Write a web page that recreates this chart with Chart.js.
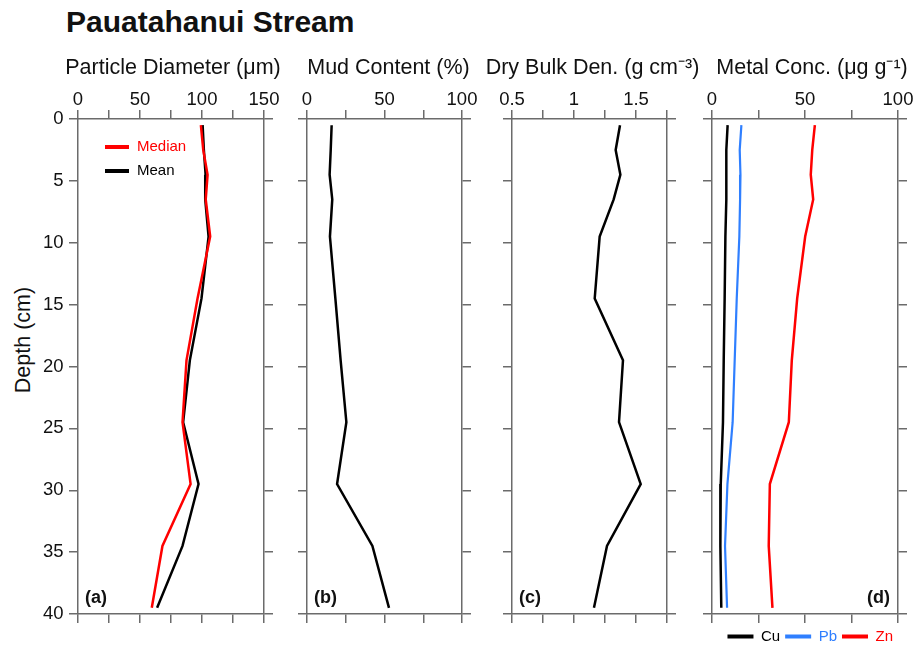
<!DOCTYPE html>
<html>
<head>
<meta charset="utf-8">
<script src="https://cdn.jsdelivr.net/npm/chart.js@4.4.1/dist/chart.umd.min.js"></script>
<style>
  html, body { margin: 0; padding: 0; background: #fff; }
  body { position: relative; width: 914px; height: 645px; overflow: hidden;
         font-family: 'Liberation Sans', Arial, Helvetica, sans-serif; color: #111; }
  canvas { position: absolute; }
  #figTitle { position: absolute; left: 66px; top: 6.6px; font-size: 30px; font-weight: bold;
              line-height: 30px; white-space: nowrap; }
  #depthLabel { position: absolute; left: 22.5px; top: 340px; font-size: 21.5px; white-space: nowrap;
                transform: translate(-50%, -50%) rotate(-90deg); }
</style>
</head>
<body>
<div id="figTitle">Pauatahanui Stream</div>
<div id="depthLabel">Depth (cm)</div>
<canvas id="panelA"></canvas>
<canvas id="panelB"></canvas>
<canvas id="panelC"></canvas>
<canvas id="panelD"></canvas>

<script>
// ---- data ----
const depths = [0.5, 2.5, 4.5, 6.5, 9.5, 14.5, 19.5, 24.5, 29.5, 34.5, 39.5];

const medianDiameter = [99.1, 101.0, 104.5, 103.0, 106.6, 96.4, 87.5, 84.3, 90.8, 68.1, 59.5];
const meanDiameter = [100.5, 101.5, 102.9, 102.6, 105.3, 99.6, 90.2, 84.8, 97.2, 84.3, 63.8];
const mudContent = [15.9, 15.3, 14.6, 16.3, 14.8, 18.3, 21.7, 25.4, 19.4, 42.2, 52.9];
const dryBulkDensity = [1.371, 1.336, 1.374, 1.32, 1.207, 1.167, 1.395, 1.363, 1.538, 1.266, 1.161];
const cuConc = [8.4, 7.7, 7.7, 7.7, 7.2, 6.8, 6.3, 5.9, 4.7, 4.5, 5.0];
const pbConc = [15.8, 14.9, 15.3, 15.1, 14.7, 13.3, 12.2, 11.1, 8.3, 7.0, 8.1];
const znConc = [55.3, 53.9, 53.1, 54.4, 50.1, 45.8, 42.9, 41.3, 31.1, 30.5, 32.5];

// tick labels shown on the top axes
const diameterTicks = [0, 50, 100, 150];
const mudTicks = [0, 50, 100];
const densityTicks = [0.5, 1, 1.5];
const metalTicks = [0, 50, 100];

const FONT = "'Liberation Sans', Arial, Helvetica, sans-serif";
const AXIS = '#6b6b6b';
const TXT = '#111';
const PLOT_TOP = 119, PLOT_H = 495, TOP_H = 79;

Chart.defaults.font.family = FONT;
Chart.defaults.color = TXT;

const toPoints = (vals) => vals.map((v, i) => ({ x: v, y: depths[i] }));

// panel titles, panel letters + inset legend
const panelDecor = {
  id: 'panelDecor',
  afterDatasetsDraw(chart, args, opts) {
    const { ctx, chartArea } = chart;
    ctx.save();
    ctx.textBaseline = 'middle';

    if (opts.title) {
      ctx.font = '21.5px ' + FONT;
      ctx.fillStyle = TXT;
      ctx.textAlign = 'center';
      const cx = (chartArea.left + chartArea.right) / 2 + (opts.titleShift || 0);
      ctx.fillText(opts.title, cx, chartArea.top - 51);
    }

    if (opts.tag) {
      ctx.font = 'bold 18px ' + FONT;
      ctx.fillStyle = TXT;
      if (opts.tagRight) {
        ctx.textAlign = 'right';
        ctx.fillText(opts.tag, chartArea.right - 8, chartArea.bottom - 16);
      } else {
        ctx.textAlign = 'left';
        ctx.fillText(opts.tag, chartArea.left + 7, chartArea.bottom - 16);
      }
    }

    if (opts.insetLegend) {
      chart.data.datasets.forEach((ds, i) => {
        const y = chartArea.top + 28 + i * 24;
        ctx.fillStyle = ds.borderColor;
        ctx.fillRect(chartArea.left + 27, y - 2, 24, 4);
        ctx.font = '15px ' + FONT;
        ctx.textAlign = 'left';
        ctx.fillText(ds.label, chartArea.left + 59, y);
      });
    }
    ctx.restore();
  }
};

function tickGrid() {
  return { drawOnChartArea: false, drawTicks: true, tickLength: 9, color: AXIS, lineWidth: 1.5 };
}
function border() {
  return { display: true, color: AXIS, width: 1.5 };
}

function buildScales(p) {
  const near = (a, b) => Math.abs(a - b) < 1e-6;
  return {
    x: {
      type: 'linear', position: 'top', min: p.min, max: p.max,
      ticks: {
        stepSize: p.step, autoSkip: false, maxRotation: 0, padding: -1,
        font: { size: 18.5 }, color: TXT,
        callback: (v) => p.labels.some((l) => near(l, v)) ? String(v) : ''
      },
      grid: tickGrid(), border: border(),
      afterFit: (s) => { s.height = TOP_H; s.paddingLeft = 0; s.paddingRight = 0; }
    },
    x2: {
      type: 'linear', position: 'bottom', min: p.min, max: p.max,
      ticks: { stepSize: p.step, display: false },
      grid: tickGrid(), border: border(),
      afterFit: (s) => { s.height = p.bottom; s.paddingLeft = 0; s.paddingRight = 0; }
    },
    y: {
      type: 'linear', position: 'left', min: 0, max: 40, reverse: true,
      ticks: { stepSize: 5, display: p.showDepth, padding: 5.5, font: { size: 18.5 }, color: TXT },
      grid: tickGrid(), border: border(),
      afterFit: (s) => { s.width = p.L; s.paddingTop = 0; s.paddingBottom = 0; }
    },
    y2: {
      type: 'linear', position: 'right', min: 0, max: 40, reverse: true,
      ticks: { stepSize: 5, display: false },
      grid: tickGrid(), border: border(),
      afterFit: (s) => { s.width = p.R; s.paddingTop = 0; s.paddingBottom = 0; }
    }
  };
}

function makePanel(id, p, datasets, extra) {
  const canvas = document.getElementById(id);
  const w = (p.right - p.left) + p.L + p.R;
  const h = TOP_H + PLOT_H + p.bottom + (p.legendH || 0);
  canvas.width = w;
  canvas.height = h;
  canvas.style.left = (p.left - p.L) + 'px';
  canvas.style.top = (PLOT_TOP - TOP_H) + 'px';
  canvas.style.width = w + 'px';
  canvas.style.height = h + 'px';

  return new Chart(canvas, {
    type: 'scatter',
    data: { datasets },
    options: {
      responsive: false,
      animation: false,
      devicePixelRatio: 1,
      layout: { padding: 0 },
      elements: { point: { radius: 0, hoverRadius: 0 }, line: { tension: 0 } },
      scales: buildScales(p),
      plugins: Object.assign({
        legend: { display: false },
        tooltip: { enabled: false },
        panelDecor: {
          title: p.title, titleShift: p.titleShift,
          tag: p.tag, tagRight: p.tagRight, insetLegend: p.insetLegend
        }
      }, extra || {})
    },
    plugins: [panelDecor]
  });
}

function line(label, vals, color, width) {
  return {
    label, data: toPoints(vals), showLine: true,
    borderColor: color, backgroundColor: color, borderWidth: width || 2.5,
    xAxisID: 'x', yAxisID: 'y'
  };
}

// (a) particle diameter
makePanel('panelA', {
  left: 78, right: 264, L: 78, R: 22, bottom: 20,
  min: 0, max: 150, step: 25, labels: diameterTicks,
  title: 'Particle Diameter (\u03BCm)', titleShift: 2,
  showDepth: true, tag: '(a)', insetLegend: true
}, [
  line('Median', medianDiameter, '#ff0000'),
  line('Mean', meanDiameter, '#000000')
]);

// (b) mud content
makePanel('panelB', {
  left: 307, right: 462, L: 20, R: 20, bottom: 20,
  min: 0, max: 100, step: 25, labels: mudTicks,
  title: 'Mud Content (%)', titleShift: 4,
  showDepth: false, tag: '(b)'
}, [
  line('Mud', mudContent, '#000000')
]);

// (c) dry bulk density
makePanel('panelC', {
  left: 512, right: 667, L: 30, R: 38, bottom: 20,
  min: 0.5, max: 1.75, step: 0.25, labels: densityTicks,
  title: 'Dry Bulk Den. (g cm\u207B\u00B3)', titleShift: 3,
  showDepth: false, tag: '(c)'
}, [
  line('Density', dryBulkDensity, '#000000')
]);

// (d) metal concentrations
makePanel('panelD', {
  left: 712, right: 898, L: 20, R: 16, bottom: 10, legendH: 30,
  min: 0, max: 100, step: 25, labels: metalTicks,
  title: 'Metal Conc. (\u03BCg g\u207B\u00B9)', titleShift: 7,
  showDepth: false, tag: '(d)', tagRight: true
}, [
  line('Cu', cuConc, '#000000'),
  line('Pb', pbConc, '#2f7fff', 2.2),
  line('Zn', znConc, '#ff0000')
], {
  legend: {
    display: true, position: 'bottom', align: 'end', fullSize: false,
    labels: {
      boxWidth: 26, boxHeight: 4, padding: 5, font: { size: 15 },
      generateLabels(chart) {
        return chart.data.datasets.map((ds, i) => ({
          text: ds.label, fillStyle: ds.borderColor, strokeStyle: ds.borderColor,
          fontColor: ds.borderColor, lineWidth: 0, hidden: false, datasetIndex: i
        }));
      }
    }
  }
});
</script>
</body>
</html>
